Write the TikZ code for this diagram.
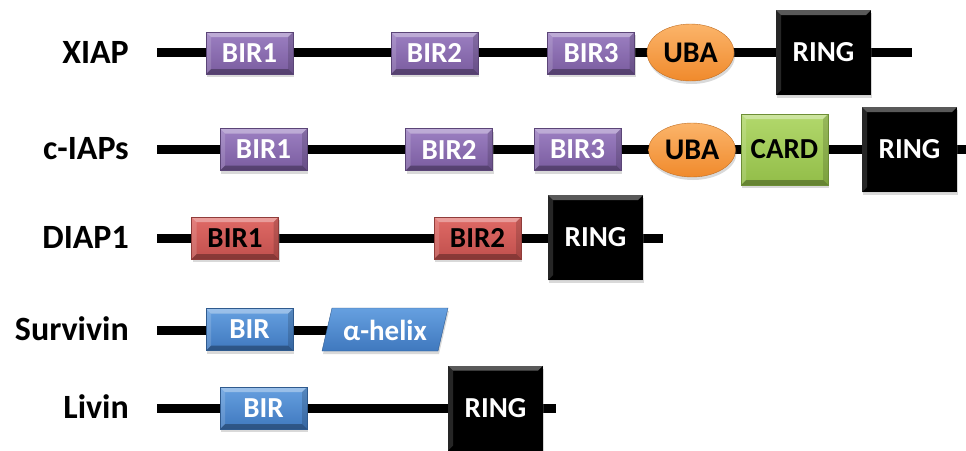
\documentclass[tikz,border=0pt]{standalone}
\usepackage{fontspec}
\setmainfont{Carlito}
\usepackage{tikz}
\usetikzlibrary{shadows,shapes.geometric}

\definecolor{birpurple}{HTML}{7A5C9F}
\definecolor{birtop}{HTML}{9C80C2}
\definecolor{birred}{HTML}{C0504D}
\definecolor{redtop}{HTML}{E06A66}
\definecolor{birblue}{HTML}{3F78BE}
\definecolor{bluetop}{HTML}{66A0E0}
\definecolor{ubaorange}{HTML}{F08A2C}
\definecolor{ubatop}{HTML}{FBB46A}
\definecolor{cardgreen}{HTML}{92BD48}
\definecolor{cardtop}{HTML}{B2D86C}

% bevelled rim of a domain box
\newcommand\domainbevel{%
  \fill[white,opacity=.35] (path picture bounding box.north west) -- (path picture bounding box.north east)
    -- ([shift={(-5pt,-5pt)}]path picture bounding box.north east) -- ([shift={(5pt,-5pt)}]path picture bounding box.north west) -- cycle;
  \fill[black,opacity=.3] (path picture bounding box.south west) -- (path picture bounding box.south east)
    -- ([shift={(-5pt,5pt)}]path picture bounding box.south east) -- ([shift={(5pt,5pt)}]path picture bounding box.south west) -- cycle;
  \fill[white,opacity=.15] (path picture bounding box.north west) -- ([shift={(5pt,-5pt)}]path picture bounding box.north west)
    -- ([shift={(5pt,5pt)}]path picture bounding box.south west) -- (path picture bounding box.south west) -- cycle;
  \fill[black,opacity=.15] (path picture bounding box.north east) -- ([shift={(-5pt,-5pt)}]path picture bounding box.north east)
    -- ([shift={(-5pt,5pt)}]path picture bounding box.south east) -- (path picture bounding box.south east) -- cycle;
}

\tikzset{
  backbone/.style={line width=9pt},
  protein/.style={anchor=base east,inner sep=0pt,font=\fontsize{34}{34}\selectfont\bfseries},
  dombox/.style={rectangle,inner sep=0pt,minimum width=87pt,minimum height=42pt,
    font=\fontsize{29}{29}\selectfont\bfseries,text=white,
    drop shadow={shadow xshift=1pt,shadow yshift=-3pt,opacity=.3},
    path picture={\domainbevel}},
  bir/.style={dombox,top color=birtop,bottom color=birpurple,draw=birpurple!75!black},
  birred/.style={dombox,text=black,top color=redtop,bottom color=birred,draw=birred!75!black},
  birblue/.style={dombox,top color=bluetop,bottom color=birblue,draw=birblue!75!black},
  cardbox/.style={dombox,text=black,minimum height=71pt,top color=cardtop,bottom color=cardgreen,draw=cardgreen!75!black},
  ringbox/.style={dombox,minimum width=95pt,minimum height=85pt,fill=black},
  ubabox/.style={ellipse,inner sep=0pt,minimum width=87pt,minimum height=57pt,
    font=\fontsize{30}{30}\selectfont\bfseries,top color=ubatop,bottom color=ubaorange,
    draw=ubaorange!80!black,drop shadow={shadow xshift=1pt,shadow yshift=-3pt,opacity=.3}},
  helixbox/.style={top color=bluetop,bottom color=birblue,draw=birblue!75!black,
    drop shadow={shadow xshift=1pt,shadow yshift=-3pt,opacity=.3}},
}

\begin{document}
\begin{tikzpicture}[x=1pt,y=-1pt]
\useasboundingbox (0,0) rectangle (966,450);

% names
\foreach\t/\y[count=\i] in {XIAP/52.5,c-IAPs/149,DIAP1/238,Survivin/330,Livin/408}{\node[protein] (name\i) at (129,\y+10.5) {\t};};

% backbones
\coordinate (xiap-n) at (157,52.5);  \coordinate (xiap-c) at (912,52.5);
\coordinate (ciap-n) at (157,149);   \coordinate (ciap-c) at (966,149);
\coordinate (diap-n) at (157,238);   \coordinate (diap-c) at (663,238);
\coordinate (surv-n) at (157,330);   \coordinate (surv-c) at (330,330);
\coordinate (livin-n) at (157,408);  \coordinate (livin-c) at (556,408);
\foreach\p in {xiap,ciap,diap,surv,livin}{\draw[backbone] (\p-n) -- (\p-c);};

% XIAP
\foreach\x/\t[count=\i] in {249.5/BIR1,434.5/BIR2,591/BIR3}{\node[bir] (xiap-bir\i) at (\x,53) {\t};};
\node[ubabox] (xiap-uba) at (690.5,52.5) {UBA};
\node[ringbox] (xiap-ring) at (823.5,52.5) {RING};

% c-IAPs
\foreach\x/\t[count=\i] in {263.5/BIR1,449/BIR2,577.5/BIR3}{\node[bir] (ciap-bir\i) at (\x,149.5) {\t};};
\node[ubabox,minimum height=54pt] (ciap-uba) at (692,150) {UBA};
\node[cardbox] (ciap-card) at (784.5,149.5) {CARD};
\node[ringbox] (ciap-ring) at (909.5,149.5) {RING};

% DIAP1
\foreach\x/\t[count=\i] in {235/BIR1,477.5/BIR2}{\node[birred] (diap-bir\i) at (\x,238) {\t};};
\node[ringbox] (diap-ring) at (595.5,237.5) {RING};

% Survivin
\node[birblue] (surv-bir) at (249.5,329.5) {BIR};
\path[helixbox] (322,351) -- (332,308) -- (448,308) -- (438,351) -- cycle;
\node[text=white,font=\fontsize{29}{29}\selectfont\bfseries] (surv-helix) at (385,330) {α-helix};

% Livin
\node[birblue] (livin-bir) at (263.5,408) {BIR};
\node[ringbox] (livin-ring) at (495.5,408) {RING};
\end{tikzpicture}
\end{document}
